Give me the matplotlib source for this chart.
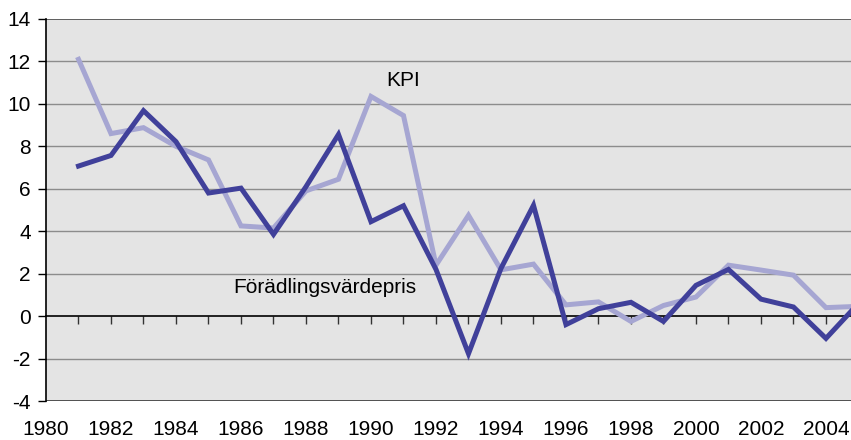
import matplotlib.pyplot as plt

plt.rcParams['font.family'] = ['Liberation Sans', 'DejaVu Sans']
plt.rcParams['axes.unicode_minus'] = False

years = list(range(1981, 2006))
kpi = [12.1, 8.6, 8.88, 8.0, 7.36, 4.25, 4.15, 5.9, 6.45, 10.35, 9.45, 2.4, 4.75,
       2.18, 2.45, 0.53, 0.67, -0.25, 0.5, 0.9, 2.4, 2.17, 1.93, 0.4, 0.46]
fvp = [7.07, 7.57, 9.68, 8.22, 5.8, 6.03, 3.85, 6.1, 8.56, 4.45, 5.2, 2.2, -1.77,
       2.25, 5.22, -0.4, 0.35, 0.65, -0.25, 1.45, 2.2, 0.8, 0.43, -1.05, 0.6]
label_years = list(range(1980, 2005, 2))

fig = plt.figure(figsize=(8.51, 4.40), dpi=100)
ax = fig.add_axes([46 / 851, 39 / 440, 805 / 851, 382 / 440])
ax.set_facecolor('#e4e4e4')

ax.set_xlim(1980, 2004.77)
ax.set_ylim(-4, 14)

for v in range(-2, 14, 2):
    if v != 0:
        ax.axhline(v, color='#8c8c8c', lw=1.0, zorder=1)
ax.axhline(14, color='#555555', lw=1.3, zorder=1)
ax.axhline(-4, color='#444444', lw=1.3, zorder=1)

ax.plot(years, kpi, color='#a6a6d2', lw=3.6, zorder=3, solid_joinstyle='miter')
ax.plot(years, fvp, color='#40409a', lw=3.6, zorder=4, solid_joinstyle='miter')

ax.text(1990.98, 11.1, 'KPI', fontsize=15, ha='center', va='center')
ax.text(1988.58, 1.33, 'Förädlingsvärdepris', fontsize=15, ha='center', va='center')

# x axis line at zero with yearly ticks
ax.spines['bottom'].set_position(('data', 0))
ax.spines['bottom'].set_color('black')
ax.spines['bottom'].set_linewidth(1.2)
ax.spines['top'].set_visible(False)
ax.spines['right'].set_visible(False)
ax.spines['left'].set_linewidth(1.2)
ax.set_xticks(years[:-1])
ax.tick_params(axis='x', direction='out', length=6, width=1, colors='#333333',
               labelbottom=False)

ax.set_yticks(range(-4, 15, 2))
ax.tick_params(axis='y', direction='out', length=6, width=1, labelsize=15, pad=5)

sec = ax.secondary_xaxis('bottom')
sec.spines['bottom'].set_visible(False)
sec.set_xticks(label_years)
sec.tick_params(length=0, labelsize=15, pad=14)

fig.savefig('out.png', dpi=100)
